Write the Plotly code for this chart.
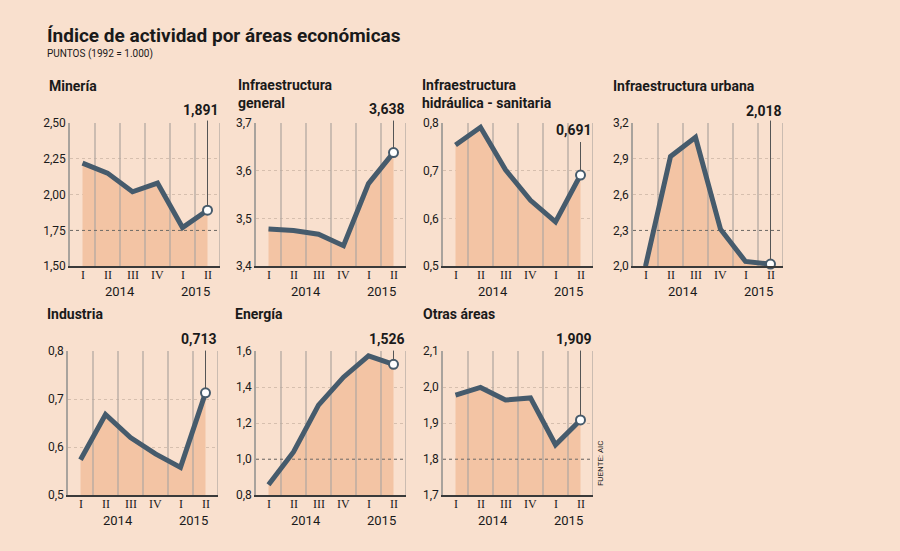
import plotly.graph_objects as go

# ---------------- data ----------------
quarters = ["I", "II", "III", "IV", "I", "II"]
years = ["2014", "2015"]

mineria = [2.22, 2.15, 2.02, 2.08, 1.77, 1.891]
infra_general = [3.478, 3.475, 3.467, 3.443, 3.573, 3.638]
infra_hidraulica = [0.754, 0.791, 0.702, 0.638, 0.593, 0.691]
infra_urbana = [2.0, 2.92, 3.08, 2.31, 2.04, 2.018]
industria = [0.574, 0.668, 0.620, 0.586, 0.558, 0.713]
energia = [0.858, 1.04, 1.30, 1.455, 1.573, 1.526]
otras_areas = [1.978, 1.999, 1.964, 1.970, 1.840, 1.909]

mineria_ticks = [1.50, 1.75, 2.00, 2.25, 2.50]
mineria_ticklabels = ["1,50", "1,75", "2,00", "2,25", "2,50"]
general_ticks = [3.4, 3.5, 3.6, 3.7]
general_ticklabels = ["3,4", "3,5", "3,6", "3,7"]
hidraulica_ticks = [0.5, 0.6, 0.7, 0.8]
hidraulica_ticklabels = ["0,5", "0,6", "0,7", "0,8"]
urbana_ticks = [2.0, 2.3, 2.6, 2.9, 3.2]
urbana_ticklabels = ["2,0", "2,3", "2,6", "2,9", "3,2"]
industria_ticks = [0.5, 0.6, 0.7, 0.8]
industria_ticklabels = ["0,5", "0,6", "0,7", "0,8"]
energia_ticks = [0.8, 1.0, 1.2, 1.4, 1.6]
energia_ticklabels = ["0,8", "1,0", "1,2", "1,4", "1,6"]
otras_ticks = [1.7, 1.8, 1.9, 2.0, 2.1]
otras_ticklabels = ["1,7", "1,8", "1,9", "2,0", "2,1"]

# ---------------- style ----------------
W, H = 900, 551
BG = "#f9e0ce"
FILL = "#f3c4a4"
LINE = "#465b6c"
VGRID = "#b3a9a1"
HGRID = "#d6bfae"
REF = "#6e6a66"
TXT = "#1a1a1a"
SANS = "Roboto"
SERIF = "Liberation Serif"

panels = [
    dict(title=["Minería"], tx=47, ty=71, box=(70, 220, 119, 266),
         values=mineria, ticks=mineria_ticks, ticklabels=mineria_ticklabels,
         ref=1.75, lab_y=106, lead_top=115),
    dict(title=["Infraestructura", "general"], tx=236, ty=70, box=(256, 406, 119, 266),
         values=infra_general, ticks=general_ticks, ticklabels=general_ticklabels,
         ref=None, lab_y=105, lead_top=115),
    dict(title=["Infraestructura", "hidráulica - sanitaria"], tx=420, ty=70, box=(443, 593, 119, 266),
         values=infra_hidraulica, ticks=hidraulica_ticks, ticklabels=hidraulica_ticklabels,
         ref=None, lab_y=126, lead_top=137),
    dict(title=["Infraestructura urbana"], tx=611, ty=71, box=(633, 783, 119, 266),
         values=infra_urbana, ticks=urbana_ticks, ticklabels=urbana_ticklabels,
         ref=2.3, lab_y=107, lead_top=115),
    dict(title=["Industria"], tx=45, ty=305, box=(68, 218, 353, 501),
         values=industria, ticks=industria_ticks, ticklabels=industria_ticklabels,
         ref=None, lab_y=341, lead_top=351),
    dict(title=["Energía"], tx=233, ty=305, box=(256, 406, 353, 501),
         values=energia, ticks=energia_ticks, ticklabels=energia_ticklabels,
         ref=1.0, lab_y=341, lead_top=351),
    dict(title=["Otras áreas"], tx=421, ty=305, box=(443, 593, 353, 501),
         values=otras_areas, ticks=otras_ticks, ticklabels=otras_ticklabels,
         ref=1.8, lab_y=341, lead_top=351),
]

fig = go.Figure()
annotations = []
layout_axes = {}

def py(p):
    return 1 - p / H

for i, p in enumerate(panels):
    s = "" if i == 0 else str(i + 1)
    xa, ya = "x" + s, "y" + s
    x0, x1, y0, y1 = p["box"]
    vals = p["values"]
    r0, r1 = min(p["ticks"]), max(p["ticks"])
    xs = list(range(len(quarters)))
    n = len(quarters)

    # area fill
    fig.add_trace(go.Scatter(x=xs, y=vals, xaxis=xa, yaxis=ya, mode="none",
                             fill="tozeroy", fillcolor=FILL, hoverinfo="skip"))
    # vertical separators between quarters
    gx, gy = [], []
    for k in range(n):
        b = k + 0.5
        gx += [b, b, None]
        gy += [r0, r1, None]
    fig.add_trace(go.Scatter(x=gx, y=gy, xaxis=xa, yaxis=ya, mode="lines",
                             line=dict(color=VGRID, width=1.3), hoverinfo="skip"))
    # darker reference line
    if p["ref"] is not None:
        fig.add_trace(go.Scatter(x=[-0.5, n - 0.5], y=[p["ref"], p["ref"]], xaxis=xa, yaxis=ya,
                                 mode="lines", line=dict(color=REF, width=1, dash="dot"),
                                 hoverinfo="skip"))
    # data line
    fig.add_trace(go.Scatter(x=xs, y=vals, xaxis=xa, yaxis=ya, mode="lines",
                             line=dict(color=LINE, width=5), hoverinfo="skip"))
    # last point marker
    fig.add_trace(go.Scatter(x=[xs[-1]], y=[vals[-1]], xaxis=xa, yaxis=ya, mode="markers",
                             marker=dict(size=9, color="white", line=dict(color=LINE, width=2)),
                             cliponaxis=False, hoverinfo="skip"))

    layout_axes["xaxis" + s] = dict(
        domain=[x0 / W, x1 / W], anchor=ya, range=[-0.5, n - 0.5],
        tickmode="array", tickvals=xs, showticklabels=False, ticks="",
        showgrid=False, zeroline=False, showline=True, linecolor="#3a3a3a", linewidth=1.5,
        fixedrange=True)
    layout_axes["yaxis" + s] = dict(
        domain=[py(y1), py(y0)], anchor=xa, range=[r0, r1],
        tickmode="array", tickvals=p["ticks"], ticktext=p["ticklabels"],
        tickfont=dict(family=SANS, size=12, color=TXT), ticks="",
        showgrid=True, gridcolor=HGRID, griddash="dot", gridwidth=1,
        zeroline=False, showline=True, linecolor="#a9a39d", linewidth=1.5,
        fixedrange=True)

    # quarter labels (category axis labels)
    for xq, q in zip(xs, quarters):
        annotations.append(dict(text=q, xref=xa, yref="paper", x=xq, y=py(y1 + 9),
                                xanchor="center", yanchor="middle", showarrow=False, borderpad=0,
                                font=dict(family=SERIF, size=12, color=TXT)))
    # years
    for yr, xc in zip(years, [1.5, 4.5]):
        annotations.append(dict(text=yr, xref=xa, yref="paper", x=xc, y=py(y1 + 26),
                                xanchor="center", yanchor="middle", showarrow=False, borderpad=0,
                                font=dict(family=SANS, size=13, color=TXT)))
    # panel title
    annotations.append(dict(text="<br>".join(p["title"]), xref="paper", yref="paper",
                            x=p["tx"] / W, y=py(p["ty"]), align="left",
                            xanchor="left", yanchor="top", showarrow=False,
                            font=dict(family=SANS, size=14, color=TXT, weight="bold")))
    # leader line
    lead = r1 + (y0 - p["lead_top"]) / (y1 - y0) * (r1 - r0)
    annotations.append(dict(text="", x=xs[-1], y=vals[-1], xref=xa, yref=ya,
                            ax=xs[-1], ay=lead, axref=xa, ayref=ya,
                            showarrow=True, arrowhead=0, arrowwidth=1, arrowcolor="#555555",
                            standoff=4))
    # value label
    annotations.append(dict(text=f"{vals[-1]:.3f}".replace(".", ","), xref=xa, yref="paper",
                            x=xs[-1], y=py(p["lab_y"]), xanchor="right", yanchor="middle",
                            xshift=13, showarrow=False,
                            font=dict(family=SANS, size=14, color=TXT, weight="bold")))

# headline
annotations.append(dict(text="Índice de actividad por áreas económicas", xref="paper", yref="paper",
                        x=45 / W, y=py(29), xanchor="left", yanchor="middle", showarrow=False,
                        font=dict(family=SANS, size=19, color=TXT, weight="bold")))
annotations.append(dict(text="PUNTOS (1992 = 1.000)", xref="paper", yref="paper",
                        x=45 / W, y=py(48), xanchor="left", yanchor="middle", showarrow=False,
                        font=dict(family=SANS, size=10, color=TXT)))
annotations.append(dict(text="FUENTE: AIC", xref="paper", yref="paper",
                        x=600 / W, y=py(468), xanchor="center", yanchor="middle", showarrow=False,
                        textangle=-90, font=dict(family=SANS, size=8, color=TXT)))

fig.update_layout(width=W, height=H, margin=dict(l=0, r=0, t=0, b=0),
                  paper_bgcolor=BG, plot_bgcolor=BG, showlegend=False,
                  annotations=annotations, **layout_axes)

fig.write_html("out.html", config={"displayModeBar": False},
               post_script="document.body.style.margin='0';document.body.style.background='" + BG + "';")
